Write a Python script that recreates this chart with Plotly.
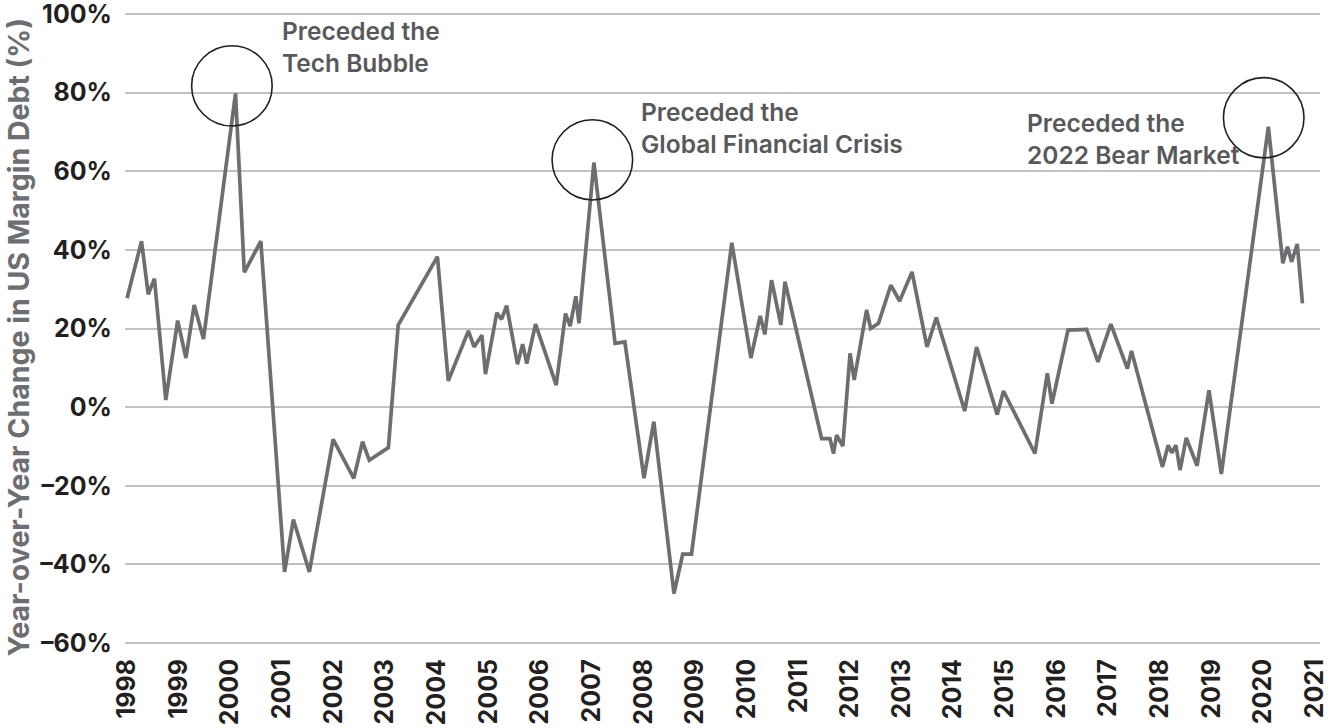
import plotly.graph_objects as go

# ---- data (decimal year, YoY % change in US margin debt) ----
years = [1998.00, 1998.28, 1998.41, 1998.53, 1998.75, 1998.98, 1999.14, 1999.30, 1999.48,
         2000.10, 2000.27, 2000.59, 2001.05, 2001.22, 2001.53, 2001.99, 2002.39, 2002.56,
         2002.69, 2003.06, 2003.25, 2004.01, 2004.22, 2004.61, 2004.72, 2004.87, 2004.94,
         2005.16, 2005.25, 2005.35, 2005.56, 2005.66, 2005.74, 2005.91, 2006.31, 2006.49,
         2006.58, 2006.69, 2006.75, 2007.04, 2007.45, 2007.64, 2008.01, 2008.20, 2008.59,
         2008.76, 2008.93, 2009.71, 2010.08, 2010.26, 2010.35, 2010.48, 2010.66, 2010.74,
         2011.45, 2011.61, 2011.68, 2011.74, 2011.86, 2012.00, 2012.08, 2012.32, 2012.40,
         2012.55, 2012.79, 2012.96, 2013.20, 2013.49, 2013.67, 2014.22, 2014.45, 2014.85,
         2014.97, 2015.58, 2015.82, 2015.91, 2016.22, 2016.58, 2016.80, 2017.05, 2017.37,
         2017.45, 2018.05, 2018.16, 2018.23, 2018.31, 2018.39, 2018.51, 2018.72, 2018.95,
         2019.19, 2020.10, 2020.38, 2020.47, 2020.55, 2020.66, 2020.76]
yoy_change = [27.7, 42.2, 28.7, 32.7, 1.8, 22.0, 12.5, 26.0, 17.3,
              79.8, 34.3, 42.2, -41.9, -28.6, -41.9, -8.2, -18.1, -8.8,
              -13.5, -10.3, 20.9, 38.3, 6.7, 19.4, 15.3, 18.3, 8.4,
              24.0, 22.3, 25.8, 10.9, 16.0, 11.1, 21.1, 5.6, 23.8,
              20.6, 28.2, 21.3, 62.2, 16.2, 16.6, -18.1, -3.7, -47.4,
              -37.4, -37.4, 41.8, 12.5, 23.2, 18.5, 32.3, 20.9, 31.9,
              -8.0, -8.0, -11.8, -7.1, -9.9, 13.7, 6.9, 24.7, 20.0,
              21.3, 31.0, 27.0, 34.4, 15.3, 22.8, -1.0, 15.3, -1.9,
              4.1, -11.8, 8.6, 0.9, 19.6, 19.8, 11.5, 21.1, 9.8,
              14.3, -15.2, -9.7, -11.6, -9.7, -16.0, -7.8, -14.9, 4.3,
              -17.0, 71.3, 36.6, 40.8, 37.0, 41.5, 26.4]

tick_years = list(range(1998, 2022))
tick_labels = [str(y) for y in tick_years]
y_ticks = [-60, -40, -20, 0, 20, 40, 60, 80, 100]
y_tick_labels = ["\u201360%", "\u201340%", "\u201320%", "0%", "20%", "40%", "60%", "80%", "100%"]

# annotation circles (center year, center value) and texts (year, paper-y of text top)
circle_centers = [(2000.03, 81.7), (2007.01, 62.9), (2020.01, 73.6)]
notes = ["Preceded the<br>Tech Bubble",
         "Preceded the<br>Global Financial Crisis",
         "Preceded the<br>2022 Bear Market"]
note_pos = [(2000.96, 0.9965), (2007.91, 0.8696), (2015.38, 0.8509)]

LINE_GRAY = "#6d6e71"
TEXT_GRAY = "#58595b"
FONT = "Inter, Liberation Sans, Arial, sans-serif"

fig = go.Figure()
fig.add_trace(go.Scatter(x=years, y=yoy_change, mode="lines",
                         line=dict(color=LINE_GRAY, width=3.7),
                         hoverinfo="x+y", showlegend=False))

rx, ry = 0.78, 10.2
for cx, cy in circle_centers:
    fig.add_shape(type="circle", xref="x", yref="y",
                  x0=cx - rx, x1=cx + rx, y0=cy - ry, y1=cy + ry,
                  line=dict(color="#231f20", width=1.6))

for txt, (nx, ny) in zip(notes, note_pos):
    fig.add_annotation(x=nx, y=ny, xref="x", yref="paper", text=txt, showarrow=False,
                       xanchor="left", yanchor="top", align="left",
                       font=dict(family=FONT, size=24.5, color=TEXT_GRAY, weight=600))

fig.add_annotation(x=-0.0887, y=0.4857, xref="paper", yref="paper",
                   text="Year-over-Year Change in US Margin Debt (%)",
                   textangle=-90, showarrow=False, xanchor="center", yanchor="middle",
                   font=dict(family=FONT, size=28.5, color=LINE_GRAY, weight=700))

fig.update_layout(
    width=1334, height=728,
    margin=dict(l=125, r=14, t=12, b=83, autoexpand=False),
    paper_bgcolor="white", plot_bgcolor="white",
    font=dict(family=FONT, color="#231f20"),
    xaxis=dict(range=[1997.96, 2021.10], tickmode="array", tickvals=tick_years,
               ticktext=tick_labels, tickangle=-90, showgrid=False, zeroline=False,
               showline=False, ticks="", ticklen=0, automargin=False,
               ticklabelstandoff=8, ticklabeloverflow="allow",
               tickfont=dict(family=FONT, size=25, color="#231f20", weight=700)),
    yaxis=dict(range=[-60.5, 100.5], tickmode="array", tickvals=y_ticks,
               ticktext=y_tick_labels, showgrid=True, gridcolor="#c2c2c2", gridwidth=1.8,
               zeroline=False, showline=False, ticks="", automargin=False,
               ticklabelstandoff=12, ticklabeloverflow="allow",
               tickfont=dict(family=FONT, size=25, color="#231f20", weight=700)),
)

fig.write_html("out.html", config={"displayModeBar": False},
               post_script="document.body.style.margin='0';")
